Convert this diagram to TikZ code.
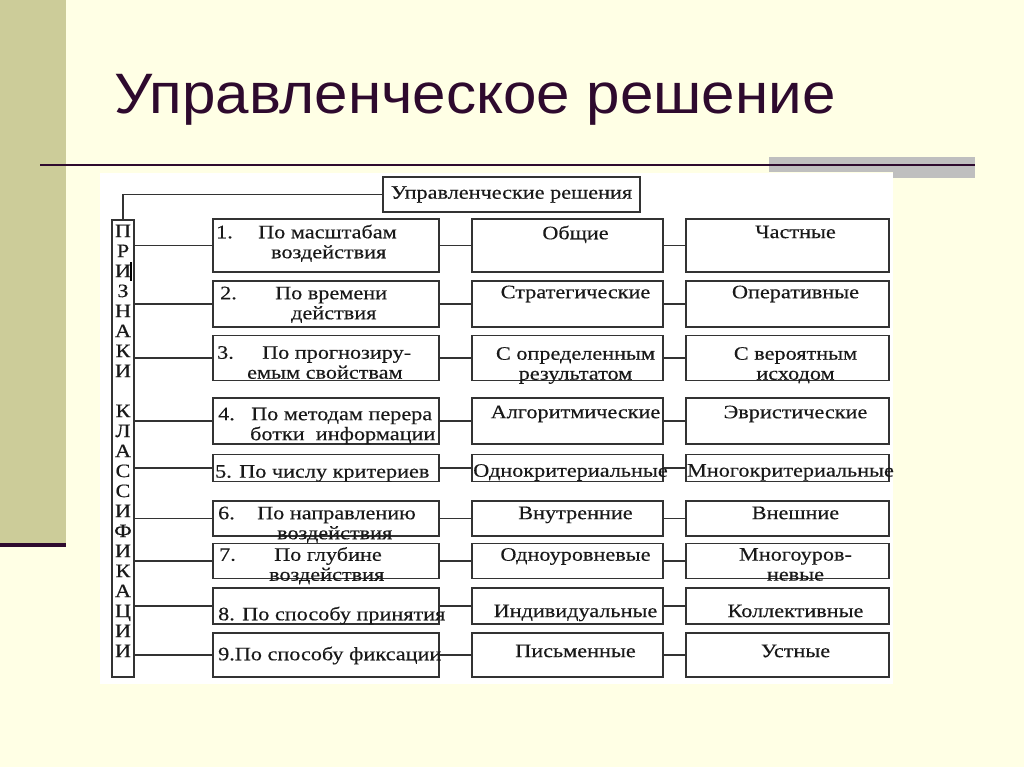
\documentclass[tikz,border=0pt]{standalone}
\usepackage{fontspec}
\setmainfont{Liberation Serif}
\newfontfamily\tabfont{Liberation Serif}[FakeStretch=1.17,FakeBold=0.3]
\newfontfamily\titelfont{Liberation Sans}[FakeStretch=1.055]
\usepackage{tikz}

\definecolor{creme}{RGB}{255,255,229}
\definecolor{oliv}{RGB}{204,204,153}
\definecolor{lila}{RGB}{46,10,46}
\definecolor{grau}{RGB}{191,191,191}

\newcommand{\einr}[2]{\makebox[0pt][l]{\hspace*{#1pt}#2}}

\begin{document}
\begin{tikzpicture}[x=1pt,y=-1pt,
  kasten/.style={draw=black!80, line width=1.1pt, inner sep=0pt},
  sp1/.style={kasten, minimum width=226pt},
  sp2/.style={kasten, minimum width=191pt},
  sp3/.style={kasten, minimum width=203pt},
  schrift/.style={font=\tabfont\fontsize{19}{20}\selectfont, text=black!90, inner sep=0pt},
  mitte/.style={schrift, anchor=north, align=center, xshift=8pt},
  links/.style={schrift, anchor=north west, align=left},
  linie/.style={draw=black!80, line width=1.1pt}]
\useasboundingbox (0,0) rectangle (1024,767);
\fill[creme] (0,0) rectangle (1024,767); %Hintergrund
\fill[oliv] (0,0) rectangle (66,543);
\fill[lila] (0,543) rectangle (66,547);
\fill[grau] (769,157) rectangle (975,172);
\fill[grau] (893,172) rectangle (975,178);
\draw[lila, line width=2pt] (40,165) -- (975,165);
\fill[white] (100,173) rectangle (893,684);

%Titel
\node[anchor=base west, inner sep=0pt, text=lila, font=\titelfont\fontsize{57}{57}\selectfont] (titel) at (114,114) {Управленческое решение};

%Kopf und Merkmale
\node[kasten, schrift, minimum width=257pt, minimum height=35pt] (kopf) at (511.5,194.5) {Управленческие решения};
\node[kasten, minimum width=22pt, minimum height=457pt, label={[schrift,anchor=north,align=center,yshift=-5pt]north:П\\Р\\И\\З\\Н\\А\\К\\И\\[20pt]К\\Л\\А\\С\\С\\И\\Ф\\И\\К\\А\\Ц\\И\\И}] (merk) at (123,448.5) {};
\draw[line width=1.5pt] (131,262) -- (131,281); %Cursor

%Zeile 1
\node[sp1, minimum height=53pt, label={[links,yshift=-6pt]north west:\einr{3}{1.}\einr{45}{По масштабам}\\\einr{58}{воздействия}}] (k1) at (326,245.5) {};
\node[sp2, minimum height=53pt, label={[mitte,yshift=-7pt]north:Общие}] (a1) at (567.5,245.5) {};
\node[sp3, minimum height=53pt, label={[mitte,yshift=-7pt]north:Частные}] (b1) at (787.5,245.5) {};
%Zeile 2
\node[sp1, minimum height=46pt, label={[links,yshift=-6pt]north west:\einr{7}{2.}\einr{62}{По времени}\\\einr{78}{действия}}] (k2) at (326,304) {};
\node[sp2, minimum height=46pt, label={[mitte,yshift=-5pt]north:Стратегические}] (a2) at (567.5,304) {};
\node[sp3, minimum height=46pt, label={[mitte,yshift=-5pt]north:Оперативные}] (b2) at (787.5,304) {};
%Zeile 3
\node[sp1, minimum height=45pt, label={[links,yshift=-11pt]north west:\einr{4}{3.}\einr{49}{По прогнозиру-}\\\einr{34}{емым свойствам}}] (k3) at (326,358) {};
\node[sp2, minimum height=45pt, label={[mitte,yshift=-12pt]north:С определенным\\результатом}] (a3) at (567.5,358) {};
\node[sp3, minimum height=45pt, label={[mitte,yshift=-12pt]north:С вероятным\\исходом}] (b3) at (787.5,358) {};
%Zeile 4
\node[sp1, minimum height=46pt, label={[links,yshift=-10pt]north west:\einr{5}{4.}\einr{38}{По методам перера}\\\einr{37}{ботки\ \ информации}}] (k4) at (326,421) {};
\node[sp2, minimum height=46pt, label={[mitte,yshift=-8pt]north:Алгоритмические}] (a4) at (567.5,421) {};
\node[sp3, minimum height=46pt, label={[mitte,yshift=-8pt]north:Эвристические}] (b4) at (787.5,421) {};
%Zeile 5
\node[sp1, minimum height=27pt, label={[links,yshift=-11pt]north west:\einr{2}{5. По числу критериев}}] (k5) at (326,468) {};
\node[sp2, minimum height=27pt, label={[mitte,yshift=-10pt,xshift=-5pt]north:Однокритериальные}] (a5) at (567.5,468) {};
\node[sp3, minimum height=27pt, label={[mitte,yshift=-10pt,xshift=-5pt]north:Многокритериальные}] (b5) at (787.5,468) {};
%Zeile 6
\node[sp1, minimum height=35pt, label={[links,yshift=-6pt]north west:\einr{5}{6.}\einr{44}{По направлению}\\\einr{64}{воздействия}}] (k6) at (326,518.5) {};
\node[sp2, minimum height=35pt, label={[mitte,yshift=-6pt]north:Внутренние}] (a6) at (567.5,518.5) {};
\node[sp3, minimum height=35pt, label={[mitte,yshift=-6pt]north:Внешние}] (b6) at (787.5,518.5) {};
%Zeile 7
\node[sp1, minimum height=35pt, label={[links,yshift=-4pt]north west:\einr{6}{7.}\einr{61}{По глубине}\\\einr{56}{воздействия}}] (k7) at (326,561) {};
\node[sp2, minimum height=35pt, label={[mitte,yshift=-5pt]north:Одноуровневые}] (a7) at (567.5,561) {};
\node[sp3, minimum height=35pt, label={[mitte,yshift=-5pt]north:Многоуров-\\невые}] (b7) at (787.5,561) {};
%Zeile 8
\node[sp1, minimum height=36pt, label={[links,yshift=-19pt]north west:\einr{5}{8. По способу принятия}}] (k8) at (326,606) {};
\node[sp2, minimum height=36pt, label={[mitte,yshift=-17pt]north:Индивидуальные}] (a8) at (567.5,606) {};
\node[sp3, minimum height=36pt, label={[mitte,yshift=-17pt]north:Коллективные}] (b8) at (787.5,606) {};
%Zeile 9
\node[sp1, minimum height=44pt, label={[links,yshift=-14pt]north west:\einr{5}{9.По способу фиксации}}] (k9) at (326,655) {};
\node[sp2, minimum height=44pt, label={[mitte,yshift=-12pt]north:Письменные}] (a9) at (567.5,655) {};
\node[sp3, minimum height=44pt, label={[mitte,yshift=-12pt]north:Устные}] (b9) at (787.5,655) {};

%Verbindungen
\draw[linie] (kopf.west) -| (merk.north);
\draw[linie] (merk.east |- k1.west) -- (k1.west) (k1.east) -- (a1.west) (a1.east) -- (b1.west);
\draw[linie] (merk.east |- k2.west) -- (k2.west) (k2.east) -- (a2.west) (a2.east) -- (b2.west);
\draw[linie] (merk.east |- k3.west) -- (k3.west) (k3.east) -- (a3.west) (a3.east) -- (b3.west);
\draw[linie] (merk.east |- k4.west) -- (k4.west) (k4.east) -- (a4.west) (a4.east) -- (b4.west);
\draw[linie] (merk.east |- k5.west) -- (k5.west) (k5.east) -- (a5.west) (a5.east) -- (b5.west);
\draw[linie] (merk.east |- k6.west) -- (k6.west) (k6.east) -- (a6.west) (a6.east) -- (b6.west);
\draw[linie] (merk.east |- k7.west) -- (k7.west) (k7.east) -- (a7.west) (a7.east) -- (b7.west);
\draw[linie] (merk.east |- k8.west) -- (k8.west) (k8.east) -- (a8.west) (a8.east) -- (b8.west);
\draw[linie] (merk.east |- k9.west) -- (k9.west) (k9.east) -- (a9.west) (a9.east) -- (b9.west);
\end{tikzpicture}
\end{document}
